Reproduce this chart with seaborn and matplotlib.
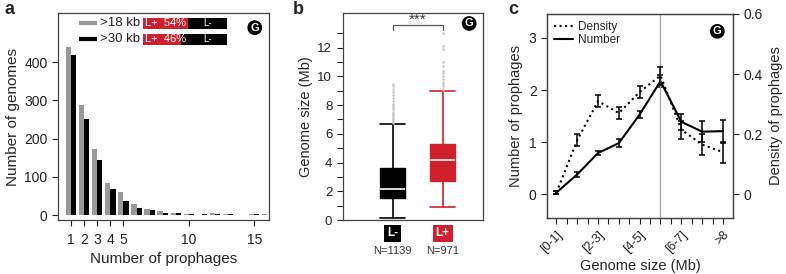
import numpy as np
import pandas as pd
import seaborn as sns
import matplotlib.pyplot as plt
from matplotlib.patches import Rectangle
from matplotlib.lines import Line2D

sns.set_style("ticks")
plt.rcParams['font.family'] = ['Liberation Sans', 'DejaVu Sans']

# --- data -------------------------------------------------------------
# panel a: number of genomes by number of prophages
n_prophages = list(range(1, 17))
genomes_18kb = [440, 287, 173, 85, 60, 28, 16, 10, 5, 3, 1, 5, 2, 1, 3, 3]
genomes_30kb = [418, 252, 145, 68, 37, 18, 14, 6, 5, 2, 4, 3, 3, 0, 2, 1]
cutoffs = ['>18 kb', '>30 kb']
lplus_pct = [54, 46]

# panel b: genome size of L- / L+ genomes (box statistics)
groups = ['L-', 'L+']
group_n = [1139, 971]
q1 = [1.55, 2.75]
median = [2.15, 4.15]
q3 = [3.65, 5.3]
whis_lo = [0.15, 0.9]
whis_hi = [6.7, 8.95]
fliers_lminus = [6.75, 6.85, 6.95, 7.05, 7.15, 7.3, 7.4, 7.55, 7.7, 7.85, 8.0,
                 8.1, 8.3, 8.5, 8.7, 8.9, 9.1, 9.3, 9.5]
fliers_lplus = [9.05, 9.15, 9.3, 9.45, 9.6, 9.8, 10.0, 10.2, 10.4, 10.7, 11.0,
                11.9, 12.1, 13.0]

# panel c: prophages vs genome size
size_bins = ['[0-1]', '[1-2]', '[2-3]', '[3-4]', '[4-5]', '[5-6]', '[6-7]', '[7-8]', '>8']
number = [0.03, 0.38, 0.79, 0.98, 1.53, 2.17, 1.39, 1.2, 1.21]
number_err = [0.03, 0.05, 0.04, 0.07, 0.07, 0.12, 0.15, 0.2, 0.22]
density = [0.005, 0.18, 0.31, 0.27, 0.34, 0.395, 0.215, 0.165, 0.14]
density_err = [0.005, 0.02, 0.02, 0.02, 0.02, 0.03, 0.03, 0.035, 0.035]

RED = '#d0202e'
GRAY = '#999999'
SPINE = '#444444'

fig = plt.figure(figsize=(7.86, 2.74), dpi=100)
axa = fig.add_axes([0.0738, 0.197, 0.268, 0.755])
axb = fig.add_axes([0.436, 0.197, 0.178, 0.755])
axc = fig.add_axes([0.696, 0.204, 0.237, 0.745])


def g_badge(ax, x, y):
    ax.text(x, y, 'G', transform=ax.transAxes, ha='center', va='center',
            color='white', fontsize=8, fontweight='bold',
            bbox=dict(boxstyle='circle,pad=0.15', fc='black', ec='black'))


def style_box(ax):
    for s in ax.spines.values():
        s.set_visible(True)
        s.set_color(SPINE)
        s.set_linewidth(0.9)
    ax.tick_params(colors='#222222', width=0.8, length=4, labelsize=10)


# --- panel a ----------------------------------------------------------
df_a = pd.DataFrame({
    'n': n_prophages * 2,
    'count': genomes_18kb + genomes_30kb,
    'cutoff': [cutoffs[0]] * len(n_prophages) + [cutoffs[1]] * len(n_prophages),
})
sns.barplot(data=df_a, x='n', y='count', hue='cutoff', native_scale=True,
            dodge=True, width=0.8, palette={cutoffs[0]: GRAY, cutoffs[1]: 'black'},
            errorbar=None, linewidth=0, legend=False, ax=axa)
axa.set_xlim(0, 16.1)
axa.set_ylim(-13, 528)
axa.set_xticks([1, 2, 3, 4, 5, 10, 15])
axa.set_xticklabels(['1', '2', '3', '4', '5', '10', '15'])
axa.set_yticks([0, 100, 200, 300, 400])
axa.set_xlabel('Number of prophages', fontsize=11, labelpad=4)
axa.set_ylabel('Number of genomes', fontsize=11, labelpad=3)
style_box(axa)
axa.tick_params(axis='x', pad=5)

rows_y = [0.95, 0.874]
for i, (lab, col, pct) in enumerate(zip(cutoffs, [GRAY, 'black'], lplus_pct)):
    y = rows_y[i]
    axa.add_line(Line2D([0.10, 0.185], [y, y], transform=axa.transAxes,
                        color=col, lw=3, solid_capstyle='butt'))
    axa.text(0.2, y, lab, transform=axa.transAxes, va='center', fontsize=9.5,
             color='#222222')
    x0, x1 = 0.403, 0.801
    xm = x0 + (x1 - x0) * pct / 100
    h = 0.052
    axa.add_patch(Rectangle((x0, y - h / 2), xm - x0, h, transform=axa.transAxes,
                            fc=RED, ec='none'))
    axa.add_patch(Rectangle((xm, y - h / 2), x1 - xm, h, transform=axa.transAxes,
                            fc='black', ec='none'))
    axa.text(x0 + 0.012, y, f'L+  {pct}%', transform=axa.transAxes,
             va='center', color='white', fontsize=8)
    axa.text((0.621 + x1) / 2, y, 'L-', transform=axa.transAxes,
             ha='center', va='center', color='white', fontsize=7)
g_badge(axa, 0.934, 0.93)

# --- panel b ----------------------------------------------------------
stats = []
for i, g in enumerate(groups):
    stats.append(dict(label=g, q1=q1[i], med=median[i], q3=q3[i],
                      whislo=whis_lo[i], whishi=whis_hi[i],
                      fliers=[fliers_lminus, fliers_lplus][i]))
box_cols = ['black', RED]
bp = axb.bxp(stats, positions=[1, 2], widths=0.5, patch_artist=True,
             showfliers=True, manage_ticks=False)
for i, c in enumerate(box_cols):
    bp['boxes'][i].set(facecolor=c, edgecolor=c)
    bp['medians'][i].set(color='white', lw=1.2)
    for w in bp['whiskers'][2 * i:2 * i + 2]:
        w.set(color=c, lw=1.2)
    for cap in bp['caps'][2 * i:2 * i + 2]:
        cap.set(color=c, lw=1.2, xdata=[i + 1 - 0.25, i + 1 + 0.25])
    bp['fliers'][i].set(marker='o', markersize=1.8, markerfacecolor='#c4c4c4',
                        markeredgecolor='none')
axb.set_xlim(0, 2.8)
axb.set_ylim(0, 14.4)
axb.set_yticks([0, 2, 4, 6, 8, 10, 12])
axb.set_yticks(range(1, 14, 2), minor=True)
axb.set_xticks([])
axb.set_ylabel('Genome size (Mb)', fontsize=10.5, labelpad=3)
style_box(axb)
axb.tick_params(axis='y', labelsize=9.5)
axb.tick_params(axis='y', which='minor', length=4, width=0.8, colors='#222222')
# significance bracket
axb.plot([1, 1, 2, 2], [13.25, 13.6, 13.6, 13.25], color='#555555', lw=0.9)
axb.text(1.5, 13.45, '***', ha='center', va='bottom', fontsize=11, color='#333333')
trans_b = axb.get_xaxis_transform()
for i, (g, n) in enumerate(zip(groups, group_n)):
    axb.text(i + 1, -0.065, g, transform=trans_b, ha='center', va='center',
             color='white', fontsize=8.5, fontweight='bold',
             bbox=dict(boxstyle='square,pad=0.25', fc=box_cols[i], ec='none'))
    axb.text(i + 1, -0.15, f'N={n}', transform=trans_b, ha='center',
             va='center', fontsize=8, color='#333333')
g_badge(axb, 0.904, 0.95)

# --- panel c ----------------------------------------------------------
pos = np.arange(len(size_bins))
axd = axc.twinx()
scale_c = 5.77
sns.lineplot(x=pos, y=number, ax=axc, color='black', lw=1.5)
axc.errorbar(pos, number, yerr=number_err, fmt='none', ecolor='black',
             elinewidth=1.1, capsize=2, capthick=1.1)
sns.lineplot(x=pos, y=density, ax=axd, color='black', lw=1.5, linestyle=':')
axd.errorbar(pos, density, yerr=density_err, fmt='none', ecolor='black',
             elinewidth=1.1, capsize=2, capthick=1.1)
axc.axvline(5, color='#aaaaaa', lw=1)
axc.set_xlim(-0.45, 8.5)
axc.set_ylim(-0.46, 3.46)
axd.set_ylim(-0.46 / scale_c, 3.46 / scale_c)
axc.set_yticks([0, 1, 2, 3])
axd.set_yticks([0, 0.2, 0.4, 0.6])
axd.set_yticklabels(['0', '0.2', '0.4', '0.6'])
axc.set_xticks(pos[::2])
axc.set_xticklabels(size_bins[::2], rotation=45, ha='right',
                    rotation_mode='anchor', fontsize=9)
axc.set_xticks(np.arange(0, 8.5, 0.5), minor=True)
axc.set_xlabel('Genome size (Mb)', fontsize=10.5, labelpad=3)
axc.set_ylabel('Number of prophages', fontsize=10.5, labelpad=4)
axd.set_ylabel('Density of prophages', fontsize=10.5, labelpad=4)
style_box(axc)
style_box(axd)
axc.tick_params(axis='x', labelsize=9)
axc.tick_params(axis='x', which='minor', length=4, width=0.8, colors='#222222')
axc.legend(handles=[Line2D([], [], color='black', ls=':', lw=1.5, label='Density'),
                    Line2D([], [], color='black', lw=1.5, label='Number')],
           loc='upper left', frameon=False, fontsize=8.5, handlelength=1.6,
           handletextpad=0.4, labelspacing=0.1, borderaxespad=0.2)
g_badge(axc, 0.914, 0.915)

# panel letters
for x, lab in [(0.006, 'a'), (0.373, 'b'), (0.646, 'c')]:
    fig.text(x, 0.965, lab, fontsize=13, fontweight='bold', va='center')

fig.savefig('out.png', dpi=100)
